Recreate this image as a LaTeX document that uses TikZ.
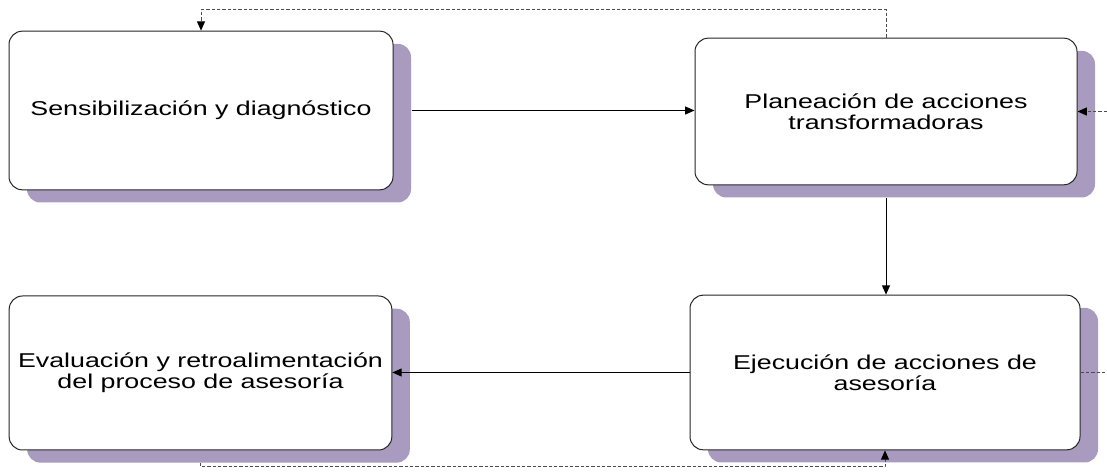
\documentclass[tikz,border=0pt]{standalone}
\usepackage{fontspec}
\setmainfont[FakeStretch=1.34]{Liberation Sans}
\usetikzlibrary{arrows.meta,shadows}
\definecolor{lila}{RGB}{169,155,192}
\tikzset{
  paso/.style={draw=black!85,line width=0.75pt,rounded corners=10pt,fill=white,align=center,
    font=\fontsize{15}{15.5}\selectfont,
    drop shadow={shadow xshift=13.5pt,shadow yshift=-9.5pt,fill=lila,opacity=1}},
  flecha/.style={line width=0.75pt,-{Triangle[length=7pt,width=6pt,black]}},
  ret/.style={line width=0.75pt,black!70,dash pattern=on 2.5pt off 1.5pt}
}
\begin{document}
\begin{tikzpicture}[x=0.75pt,y=-0.75pt]
    \useasboundingbox (0,0) rectangle (1107,473);
    \node[paso,minimum width=288pt,minimum height=119pt] (sens) at (201,110.5) {Sensibilización y diagnóstico};
    \node[paso,minimum width=286.5pt,minimum height=110pt] (plan) at (886,111.5) {Planeación de acciones\\transformadoras};
    \node[paso,minimum width=287pt,minimum height=115.5pt] (eval) at (200.5,373) {Evaluación y retroalimentación\\del proceso de asesoría};
    \node[paso,minimum width=292.5pt,minimum height=116pt] (ejec) at (885,372.5) {Ejecución de acciones de\\asesoría};
    \coordinate (arriba) at (0,10);
    \coordinate (abajo) at (0,467);
    \coordinate (borde) at (1107,0);
    \draw [flecha] ([xshift=13.5pt]sens.east) -- (plan.west |- sens.east);
    \draw [flecha] ([yshift=-9.5pt]plan.south) -- (plan.south |- ejec.north);
    \draw [flecha] (ejec.west) -- (eval.east |- ejec.west);
    \draw [ret,flecha] (plan.north) -- (plan.north |- arriba) -| (sens.north);
    \draw [ret,flecha] ([yshift=-9.5pt]eval.south) -- (eval.south |- abajo) -| (ejec.south);
    \draw [ret,flecha] (borde |- plan.east) -- (plan.east);
    \draw [ret] (ejec.east) -- (borde |- ejec.east);
\end{tikzpicture}
\end{document}
